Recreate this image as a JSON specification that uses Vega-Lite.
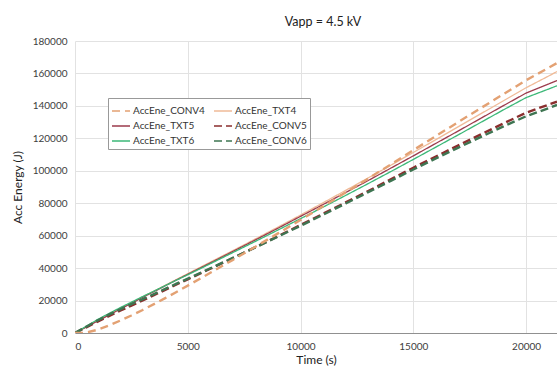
{
  "$schema": "https://vega.github.io/schema/vega-lite/v6.json",
  "autosize": {"type": "none"},
  "padding": {"left": 75, "top": 41, "right": 0, "bottom": 38},
  "width": 482,
  "height": 292,
  "background": "white",
  "title": {"text": "Vapp = 4.5 kV", "anchor": "middle", "offset": 8, "dx": 7, "font": "Lato", "fontSize": 12.5, "fontWeight": "normal", "color": "#222222"},
  "data": {"values": [
    {"s":"AccEne_TXT4","t":0,"e":0},{"s":"AccEne_TXT4","t":500,"e":3800},{"s":"AccEne_TXT4","t":1000,"e":7600},{"s":"AccEne_TXT4","t":1500,"e":11200},{"s":"AccEne_TXT4","t":2000,"e":15000},{"s":"AccEne_TXT4","t":2500,"e":18600},{"s":"AccEne_TXT4","t":3000,"e":22300},{"s":"AccEne_TXT4","t":3500,"e":25800},{"s":"AccEne_TXT4","t":4000,"e":29400},{"s":"AccEne_TXT4","t":4500,"e":33000},{"s":"AccEne_TXT4","t":5000,"e":36600},{"s":"AccEne_TXT4","t":6000,"e":43700},{"s":"AccEne_TXT4","t":7000,"e":50800},{"s":"AccEne_TXT4","t":8000,"e":58000},{"s":"AccEne_TXT4","t":9000,"e":65300},{"s":"AccEne_TXT4","t":10000,"e":72700},{"s":"AccEne_TXT4","t":11000,"e":80300},{"s":"AccEne_TXT4","t":12000,"e":87900},{"s":"AccEne_TXT4","t":13000,"e":95600},{"s":"AccEne_TXT4","t":14000,"e":103400},{"s":"AccEne_TXT4","t":15000,"e":111300},{"s":"AccEne_TXT4","t":16000,"e":119200},{"s":"AccEne_TXT4","t":17000,"e":127200},{"s":"AccEne_TXT4","t":18000,"e":135200},{"s":"AccEne_TXT4","t":19000,"e":143200},{"s":"AccEne_TXT4","t":20000,"e":151200},{"s":"AccEne_TXT4","t":21000,"e":158400},{"s":"AccEne_TXT4","t":21370,"e":161200},
    {"s":"AccEne_TXT5","t":0,"e":0},{"s":"AccEne_TXT5","t":500,"e":3700},{"s":"AccEne_TXT5","t":1000,"e":7400},{"s":"AccEne_TXT5","t":1500,"e":11000},{"s":"AccEne_TXT5","t":2000,"e":14700},{"s":"AccEne_TXT5","t":2500,"e":18300},{"s":"AccEne_TXT5","t":3000,"e":22000},{"s":"AccEne_TXT5","t":3500,"e":25500},{"s":"AccEne_TXT5","t":4000,"e":29100},{"s":"AccEne_TXT5","t":4500,"e":32700},{"s":"AccEne_TXT5","t":5000,"e":36200},{"s":"AccEne_TXT5","t":6000,"e":43200},{"s":"AccEne_TXT5","t":7000,"e":50300},{"s":"AccEne_TXT5","t":8000,"e":57400},{"s":"AccEne_TXT5","t":9000,"e":64600},{"s":"AccEne_TXT5","t":10000,"e":71900},{"s":"AccEne_TXT5","t":11000,"e":79200},{"s":"AccEne_TXT5","t":12000,"e":86600},{"s":"AccEne_TXT5","t":13000,"e":94000},{"s":"AccEne_TXT5","t":14000,"e":101600},{"s":"AccEne_TXT5","t":15000,"e":109200},{"s":"AccEne_TXT5","t":16000,"e":116900},{"s":"AccEne_TXT5","t":17000,"e":124600},{"s":"AccEne_TXT5","t":18000,"e":132400},{"s":"AccEne_TXT5","t":19000,"e":140200},{"s":"AccEne_TXT5","t":20000,"e":147900},{"s":"AccEne_TXT5","t":21000,"e":153500},{"s":"AccEne_TXT5","t":21370,"e":155600},
    {"s":"AccEne_TXT6","t":0,"e":0},{"s":"AccEne_TXT6","t":500,"e":4200},{"s":"AccEne_TXT6","t":1000,"e":8300},{"s":"AccEne_TXT6","t":1500,"e":12000},{"s":"AccEne_TXT6","t":2000,"e":15600},{"s":"AccEne_TXT6","t":2500,"e":19000},{"s":"AccEne_TXT6","t":3000,"e":22500},{"s":"AccEne_TXT6","t":3500,"e":25800},{"s":"AccEne_TXT6","t":4000,"e":29200},{"s":"AccEne_TXT6","t":4500,"e":32600},{"s":"AccEne_TXT6","t":5000,"e":35900},{"s":"AccEne_TXT6","t":6000,"e":42700},{"s":"AccEne_TXT6","t":7000,"e":49600},{"s":"AccEne_TXT6","t":8000,"e":56500},{"s":"AccEne_TXT6","t":9000,"e":63500},{"s":"AccEne_TXT6","t":10000,"e":70500},{"s":"AccEne_TXT6","t":11000,"e":77600},{"s":"AccEne_TXT6","t":12000,"e":84800},{"s":"AccEne_TXT6","t":13000,"e":92100},{"s":"AccEne_TXT6","t":14000,"e":99500},{"s":"AccEne_TXT6","t":15000,"e":107000},{"s":"AccEne_TXT6","t":16000,"e":114600},{"s":"AccEne_TXT6","t":17000,"e":122200},{"s":"AccEne_TXT6","t":18000,"e":129900},{"s":"AccEne_TXT6","t":19000,"e":137600},{"s":"AccEne_TXT6","t":20000,"e":145100},{"s":"AccEne_TXT6","t":21000,"e":150400},{"s":"AccEne_TXT6","t":21370,"e":152400},
    {"s":"AccEne_CONV5","t":0,"e":0},{"s":"AccEne_CONV5","t":500,"e":3500},{"s":"AccEne_CONV5","t":1000,"e":7000},{"s":"AccEne_CONV5","t":1500,"e":10400},{"s":"AccEne_CONV5","t":2000,"e":13700},{"s":"AccEne_CONV5","t":2500,"e":16900},{"s":"AccEne_CONV5","t":3000,"e":20100},{"s":"AccEne_CONV5","t":3500,"e":23300},{"s":"AccEne_CONV5","t":4000,"e":26600},{"s":"AccEne_CONV5","t":4500,"e":29900},{"s":"AccEne_CONV5","t":5000,"e":33100},{"s":"AccEne_CONV5","t":6000,"e":39600},{"s":"AccEne_CONV5","t":7000,"e":46200},{"s":"AccEne_CONV5","t":8000,"e":52900},{"s":"AccEne_CONV5","t":9000,"e":59700},{"s":"AccEne_CONV5","t":10000,"e":66600},{"s":"AccEne_CONV5","t":11000,"e":73500},{"s":"AccEne_CONV5","t":12000,"e":80500},{"s":"AccEne_CONV5","t":13000,"e":87500},{"s":"AccEne_CONV5","t":14000,"e":94700},{"s":"AccEne_CONV5","t":15000,"e":101900},{"s":"AccEne_CONV5","t":16000,"e":108800},{"s":"AccEne_CONV5","t":17000,"e":115700},{"s":"AccEne_CONV5","t":18000,"e":122500},{"s":"AccEne_CONV5","t":19000,"e":129200},{"s":"AccEne_CONV5","t":20000,"e":135800},{"s":"AccEne_CONV5","t":21000,"e":140800},{"s":"AccEne_CONV5","t":21370,"e":142600},
    {"s":"AccEne_CONV6","t":0,"e":0},{"s":"AccEne_CONV6","t":500,"e":3900},{"s":"AccEne_CONV6","t":1000,"e":7700},{"s":"AccEne_CONV6","t":1500,"e":11300},{"s":"AccEne_CONV6","t":2000,"e":14600},{"s":"AccEne_CONV6","t":2500,"e":17800},{"s":"AccEne_CONV6","t":3000,"e":20900},{"s":"AccEne_CONV6","t":3500,"e":24000},{"s":"AccEne_CONV6","t":4000,"e":27200},{"s":"AccEne_CONV6","t":4500,"e":30400},{"s":"AccEne_CONV6","t":5000,"e":33500},{"s":"AccEne_CONV6","t":6000,"e":39900},{"s":"AccEne_CONV6","t":7000,"e":46300},{"s":"AccEne_CONV6","t":8000,"e":52800},{"s":"AccEne_CONV6","t":9000,"e":59400},{"s":"AccEne_CONV6","t":10000,"e":66100},{"s":"AccEne_CONV6","t":11000,"e":72900},{"s":"AccEne_CONV6","t":12000,"e":79800},{"s":"AccEne_CONV6","t":13000,"e":86800},{"s":"AccEne_CONV6","t":14000,"e":93800},{"s":"AccEne_CONV6","t":15000,"e":100800},{"s":"AccEne_CONV6","t":16000,"e":107600},{"s":"AccEne_CONV6","t":17000,"e":114300},{"s":"AccEne_CONV6","t":18000,"e":120900},{"s":"AccEne_CONV6","t":19000,"e":127400},{"s":"AccEne_CONV6","t":20000,"e":133600},{"s":"AccEne_CONV6","t":21000,"e":138600},{"s":"AccEne_CONV6","t":21370,"e":140600},
    {"s":"AccEne_CONV4","t":0,"e":0},{"s":"AccEne_CONV4","t":300,"e":0},{"s":"AccEne_CONV4","t":600,"e":600},{"s":"AccEne_CONV4","t":1000,"e":2000},{"s":"AccEne_CONV4","t":1500,"e":4600},{"s":"AccEne_CONV4","t":2000,"e":7600},{"s":"AccEne_CONV4","t":2500,"e":10800},{"s":"AccEne_CONV4","t":3000,"e":14200},{"s":"AccEne_CONV4","t":3500,"e":17800},{"s":"AccEne_CONV4","t":4000,"e":21500},{"s":"AccEne_CONV4","t":4500,"e":25300},{"s":"AccEne_CONV4","t":5000,"e":29200},{"s":"AccEne_CONV4","t":6000,"e":37100},{"s":"AccEne_CONV4","t":7000,"e":45100},{"s":"AccEne_CONV4","t":8000,"e":53200},{"s":"AccEne_CONV4","t":9000,"e":61400},{"s":"AccEne_CONV4","t":10000,"e":69700},{"s":"AccEne_CONV4","t":11000,"e":78100},{"s":"AccEne_CONV4","t":12000,"e":86600},{"s":"AccEne_CONV4","t":13000,"e":95200},{"s":"AccEne_CONV4","t":14000,"e":103900},{"s":"AccEne_CONV4","t":15000,"e":112700},{"s":"AccEne_CONV4","t":16000,"e":121400},{"s":"AccEne_CONV4","t":17000,"e":130100},{"s":"AccEne_CONV4","t":18000,"e":138700},{"s":"AccEne_CONV4","t":19000,"e":147300},{"s":"AccEne_CONV4","t":20000,"e":155800},{"s":"AccEne_CONV4","t":21000,"e":163500},{"s":"AccEne_CONV4","t":21370,"e":166400}
  ]},
  "encoding": {
    "x": {"field": "t", "type": "quantitative", "title": "Time (s)",
      "scale": {"domain": [0, 21370], "nice": false},
      "axis": {"values": [0, 5000, 10000, 15000, 20000], "format": "d"}},
    "y": {"field": "e", "type": "quantitative", "title": "Acc Energy (J)",
      "scale": {"domain": [0, 180000], "nice": false},
      "axis": {"values": [0, 20000, 40000, 60000, 80000, 100000, 120000, 140000, 160000, 180000], "format": "d"}},
    "color": {"field": "s", "type": "nominal", "title": null,
      "scale": {"domain": ["AccEne_CONV4", "AccEne_TXT4", "AccEne_TXT5", "AccEne_CONV5", "AccEne_TXT6", "AccEne_CONV6"],
        "range": ["#e3a173", "#f0bb98", "#9c3b4c", "#8a2e2e", "#3cb878", "#3e7552"]}},
    "strokeDash": {"field": "s", "type": "nominal", "title": null,
      "scale": {"domain": ["AccEne_CONV4", "AccEne_TXT4", "AccEne_TXT5", "AccEne_CONV5", "AccEne_TXT6", "AccEne_CONV6"],
        "range": [[8, 5], [1, 0], [1, 0], [8, 4], [1, 0], [8, 4]]}},
    "order": {"field": "t", "type": "quantitative"}
  },
  "layer": [
    {"transform": [{"filter": "indexof(datum.s, 'TXT') >= 0"}],
     "mark": {"type": "line", "clip": true, "strokeWidth": 1.3}},
    {"transform": [{"filter": "indexof(datum.s, 'CONV') >= 0"}],
     "mark": {"type": "line", "clip": true, "strokeWidth": 2.4}}
  ],
  "config": {
    "view": {"stroke": null},
    "axis": {"labelFont": "Lato", "labelFontSize": 10, "labelColor": "#404040", "titleFont": "Lato", "titleFontSize": 12, "titleFontWeight": "normal", "titleColor": "#222222", "gridColor": "#e2e2e2", "gridWidth": 1, "tickSize": 0, "labelPadding": 8, "domainColor": "#a0a0a0"},
    "axisY": {"titlePadding": 8, "domain": false},
    "axisX": {"titlePadding": 3, "domainColor": "#909090"},
    "legend": {"orient": "none", "legendX": 33, "legendY": 57, "columns": 2, "direction": "horizontal", "strokeColor": "#999999", "padding": 3, "fillColor": "white", "labelFont": "Lato", "labelFontSize": 10, "labelColor": "#333333", "symbolType": "stroke", "symbolSize": 324, "symbolStrokeWidth": 1.3, "columnPadding": 6, "rowPadding": 0, "labelOffset": 2, "labelLimit": 200}
  }
}
